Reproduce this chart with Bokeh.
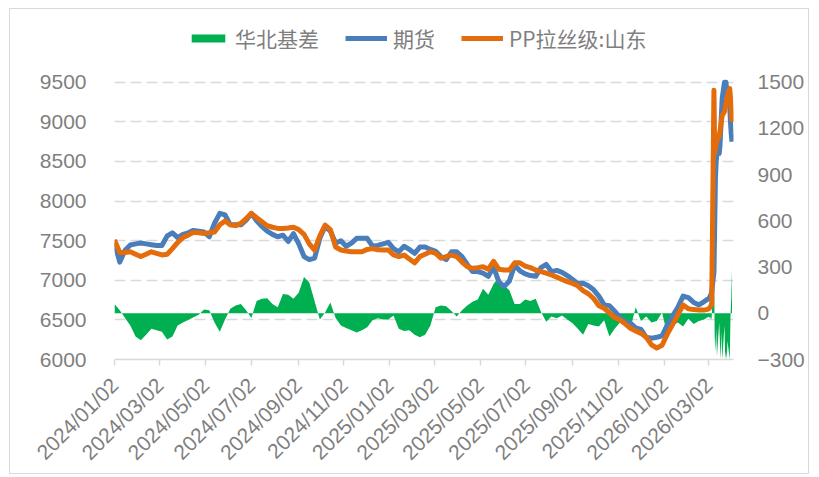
import pandas as pd
from math import pi
from bokeh.plotting import figure
from bokeh.models import (Range1d, LinearAxis, FixedTicker, DatetimeTickFormatter,
                          Legend, LegendItem, ColumnDataSource)
from bokeh.embed import file_html
from bokeh.resources import INLINE

DATES = [
    "2024/01/02", "2024/01/09", "2024/01/16", "2024/01/23", "2024/01/30",
    "2024/02/06", "2024/02/13", "2024/02/20", "2024/02/27",
    "2024/03/05", "2024/03/12", "2024/03/19", "2024/03/26",
    "2024/04/02", "2024/04/09", "2024/04/16", "2024/04/23", "2024/04/30",
    "2024/05/07", "2024/05/14", "2024/05/21", "2024/05/28",
    "2024/06/04", "2024/06/11", "2024/06/18", "2024/06/25",
    "2024/07/02", "2024/07/09", "2024/07/16", "2024/07/23", "2024/07/30",
    "2024/08/06", "2024/08/13", "2024/08/20", "2024/08/27",
    "2024/09/03", "2024/09/10", "2024/09/17", "2024/09/24",
    "2024/10/01", "2024/10/08", "2024/10/15", "2024/10/22", "2024/10/29",
    "2024/11/05", "2024/11/12", "2024/11/19", "2024/11/26",
    "2024/12/03", "2024/12/10", "2024/12/17", "2024/12/24", "2024/12/31",
    "2025/01/07", "2025/01/14", "2025/01/21", "2025/01/28",
    "2025/02/04", "2025/02/11", "2025/02/18", "2025/02/25",
    "2025/03/04", "2025/03/11", "2025/03/18", "2025/03/25",
    "2025/04/01", "2025/04/08", "2025/04/15", "2025/04/22", "2025/04/29",
    "2025/05/06", "2025/05/13", "2025/05/20", "2025/05/27",
    "2025/06/03", "2025/06/10", "2025/06/17", "2025/06/24",
    "2025/07/01", "2025/07/08", "2025/07/15", "2025/07/22", "2025/07/29",
    "2025/08/05", "2025/08/12", "2025/08/19", "2025/08/26",
    "2025/09/02", "2025/09/09", "2025/09/16", "2025/09/23", "2025/09/30",
    "2025/10/07", "2025/10/14", "2025/10/21", "2025/10/28",
    "2025/11/04", "2025/11/11", "2025/11/18", "2025/11/25",
    "2025/12/02", "2025/12/09", "2025/12/16", "2025/12/23", "2025/12/30",
    "2026/01/06", "2026/01/13", "2026/01/20", "2026/01/27",
    "2026/02/03", "2026/02/10", "2026/02/17", "2026/02/24", "2026/02/27",
    "2026/03/02", "2026/03/03", "2026/03/04", "2026/03/05", "2026/03/06",
    "2026/03/09", "2026/03/10", "2026/03/11", "2026/03/12", "2026/03/13",
    "2026/03/16", "2026/03/17", "2026/03/18", "2026/03/19", "2026/03/20",
    "2026/03/23", "2026/03/24", "2026/03/25", "2026/03/26", "2026/03/27",
    "2026/03/30", "2026/03/31", "2026/04/01", "2026/04/02",
]

FUTURES = [
    7470, 7230, 7380, 7445, 7460, 7470, 7460, 7450, 7440, 7440, 7560, 7600, 7540,
    7580, 7600, 7630, 7620, 7610, 7550, 7720, 7845, 7825, 7700, 7700, 7700, 7760,
    7845, 7750, 7680, 7620, 7580, 7550, 7570, 7490, 7590, 7460, 7300, 7260, 7280,
    7530, 7680, 7620, 7470, 7500, 7430, 7470, 7530, 7530, 7530, 7430, 7440, 7460, 7480,
    7400, 7360, 7430, 7390, 7340, 7420, 7420, 7390, 7365, 7300, 7260, 7360,
    7360, 7300, 7200, 7110, 7110, 7090, 7050, 7170, 6980, 6920, 6990, 7190, 7120,
    7080, 7060, 7050, 7160, 7200, 7110, 7125, 7100, 7060, 7010, 6960, 6962, 6930, 6880,
    6800, 6690, 6680, 6610, 6530, 6475, 6458, 6400, 6380, 6280, 6269, 6280, 6300,
    6437, 6550, 6660, 6800, 6780, 6720, 6690, 6731, 6752,
    6770, 6780, 6800, 6820, 6850,
    7100, 7700, 8300, 8500, 8600,
    8600, 8700, 8900, 9100, 9300,
    9500, 9500, 9500, 9400, 9300,
    9200, 9000, 8850, 8750,
]

SPOT = [
    7510, 7350, 7350, 7360, 7330, 7300, 7330, 7360, 7340, 7320, 7330, 7400, 7480,
    7540, 7570, 7605, 7600, 7590, 7600, 7610, 7700, 7750, 7700, 7690, 7720, 7780,
    7845, 7790, 7740, 7690, 7670, 7655, 7655, 7660, 7670, 7640, 7580, 7460, 7380,
    7560, 7697, 7640, 7420, 7382, 7370, 7361, 7361, 7361, 7390, 7400, 7385, 7382, 7382,
    7320, 7300, 7319, 7270, 7220, 7300, 7330, 7361, 7340, 7280, 7300, 7319,
    7300, 7230, 7172, 7151, 7160, 7172, 7140, 7240, 7140, 7130, 7130, 7220, 7220,
    7180, 7160, 7130, 7109, 7090, 7067, 7040, 7010, 6983, 6960, 6930, 6870, 6830, 6770,
    6680, 6647, 6590, 6530, 6500, 6450, 6395, 6360, 6330, 6280, 6185, 6145, 6180,
    6320, 6440, 6560, 6689, 6640, 6630, 6626, 6626, 6630,
    6640, 6650, 6660, 6680, 6700,
    9400, 8600, 8680, 8720, 8760,
    8820, 8880, 8940, 9020, 9080,
    9130, 9180, 9230, 9280, 9330,
    9420, 9300, 9150, 9000,
]

BASIS = [
    60, 20, -30, -80, -150, -175, -140, -100, -110, -120, -170, -150, -80,
    -60, -43, -25, -10, 25, 20, -60, -120, -40, 30, 50, 60, 20,
    -30, 80, 95, 97, 60, 40, 125, 120, 95, 135, 235, 200, 80,
    -40, 5, 70, -30, -80, -95, -110, -125, -110, -90, -45, -32, -40, -40,
    -15, -100, -115, -110, -140, -155, -140, -80, 40, 50, 45, 15,
    -20, 20, 50, 75, 90, 160, 120, 190, 235, 180, 150, 60, 60,
    90, 80, 95, 10, -55, -20, -32, -15, -40, -65, -100, -140, -70, -80,
    -85, -45, -150, -100, -60, -55, -95, 40, -50, -20, -60, -50, 5,
    -140, -80, -60, -85, -35, -70, -50, -40, -30,
    -22, -30, -20, -40, -30,
    470, -150, -250, -100, -280,
    -60, -200, -300, -120, -300,
    -80, -300, -250, -300, -180,
    -300, -20, 100, 290,
]

X_TICKS = ["2024/01/02", "2024/03/02", "2024/05/02", "2024/07/02", "2024/09/02",
           "2024/11/02", "2025/01/02", "2025/03/02", "2025/05/02", "2025/07/02",
           "2025/09/02", "2025/11/02", "2026/01/02", "2026/03/02"]
LEFT_TICKS = [6000, 6500, 7000, 7500, 8000, 8500, 9000, 9500]
RIGHT_TICKS = [-300, 0, 300, 600, 900, 1200, 1500]

GRAY = "#7f7f7f"
LIGHT = "#d9d9d9"
TICK_FONT = "Liberation Sans"
CJK_FONT = "Noto Sans CJK SC"

# layout (pixels): the plotting frame reaches up to the canvas top so the legend
# can sit inside it; the value axes keep 9500 / 1500 at the same height.
FRAME_H = 351          # frame height in px
AXIS_SPAN_PX = 278     # px between 6000 and 9500 (and between -300 and 1500)
left_top = 6000 + (9500 - 6000) * FRAME_H / AXIS_SPAN_PX
right_top = -300 + (1500 - (-300)) * FRAME_H / AXIS_SPAN_PX

x = pd.to_datetime(DATES, format="%Y/%m/%d")
src = ColumnDataSource(dict(x=x, fut=FUTURES, spot=SPOT, basis=BASIS))

p = figure(width=800, height=466, x_axis_type="datetime",
           x_range=Range1d(pd.Timestamp("2024-01-02"), pd.Timestamp("2026-04-04")),
           y_range=Range1d(6000, left_top),
           output_backend="svg", toolbar_location=None,
           min_border_left=104, min_border_right=77,
           min_border_top=0, min_border_bottom=115)
p.styles = {"border": "1px solid #d9d9d9", "margin-left": "9px", "margin-top": "8px"}
p.outline_line_color = None
p.extra_y_ranges = {"basis": Range1d(-300, right_top)}

r_basis = p.varea(x="x", y1=0, y2="basis", source=src, fill_color="#00b050",
                  y_range_name="basis")
r_fut = p.line(x="x", y="fut", source=src, line_color="#4a7ebb", line_width=5,
               line_join="round")
r_spot = p.line(x="x", y="spot", source=src, line_color="#e46c0a", line_width=5,
                line_join="round")

p.xgrid.visible = False
p.ygrid.ticker = FixedTicker(ticks=LEFT_TICKS[1:])
p.ygrid.grid_line_color = LIGHT
p.ygrid.grid_line_width = 1.5
p.ygrid.grid_line_dash = "11 5"

# left axis
ya = p.yaxis[0]
ya.ticker = FixedTicker(ticks=LEFT_TICKS)
ya.axis_line_color = None
ya.major_tick_line_color = None
ya.minor_tick_line_color = None
ya.major_label_text_font = TICK_FONT
ya.major_label_text_font_size = "21px"
ya.major_label_text_color = GRAY
ya.major_label_standoff = 22

# right axis
ra = LinearAxis(y_range_name="basis", ticker=FixedTicker(ticks=RIGHT_TICKS))
ra.axis_line_color = None
ra.major_tick_line_color = None
ra.minor_tick_line_color = None
ra.major_label_text_font = TICK_FONT
ra.major_label_text_font_size = "21px"
ra.major_label_text_color = GRAY
ra.major_label_standoff = 18
ra.major_label_overrides = {-300: "\u2212300"}
p.add_layout(ra, "right")

# bottom axis
xa = p.xaxis[0]
tick_ms = [pd.Timestamp(t.replace("/", "-")).value // 10**6 for t in X_TICKS]
xa.ticker = FixedTicker(ticks=tick_ms)
fmt = "%Y/%m/%d"
xa.formatter = DatetimeTickFormatter(days=fmt, months=fmt, years=fmt, hours=fmt,
                                     minutes=fmt, seconds=fmt, milliseconds=fmt,
                                     microseconds=fmt, minsec=fmt, hourmin=fmt)
xa.axis_line_color = LIGHT
xa.axis_line_width = 1.5
xa.major_tick_line_color = LIGHT
xa.major_tick_line_width = 1.5
xa.major_tick_out = 6
xa.major_tick_in = 0
xa.minor_tick_line_color = None
xa.major_label_orientation = pi / 4
xa.major_label_text_font = TICK_FONT
xa.major_label_text_font_size = "21px"
xa.major_label_text_color = GRAY
xa.major_label_standoff = 16

legend = Legend(items=[LegendItem(label="华北基差", renderers=[r_basis]),
                       LegendItem(label="期货", renderers=[r_fut]),
                       LegendItem(label="PP拉丝级:山东", renderers=[r_spot])],
                orientation="horizontal", location=(73, 306))
legend.label_text_font = CJK_FONT
legend.label_text_font_size = "21px"
legend.label_text_color = GRAY
legend.glyph_width = 42
legend.glyph_height = 10
legend.label_standoff = 6
legend.spacing = 26
legend.padding = 0
legend.margin = 0
legend.border_line_color = None
legend.background_fill_alpha = 0
p.add_layout(legend)

open("out.html", "w").write(file_html(p, INLINE))
